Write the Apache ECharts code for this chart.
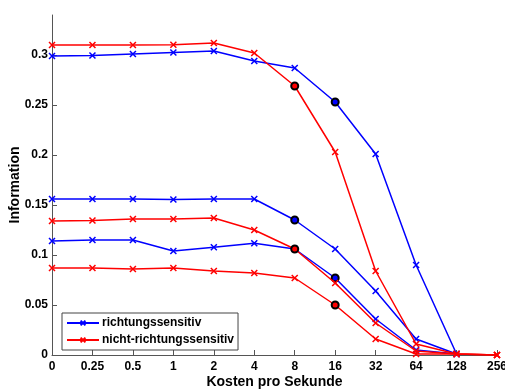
<!DOCTYPE html>
<html>
<head>
<meta charset="utf-8">
<script src="https://cdn.jsdelivr.net/npm/echarts@6/dist/echarts.min.js"></script>
<style>
  html, body { margin: 0; padding: 0; background: #fff; }
  #chart { width: 505px; height: 392px; }
</style>
</head>
<body>
<div id="chart"></div>
<script>
const costs = ["0", "0.25", "0.5", "1", "2", "4", "8", "16", "32", "64", "128", "256"]
const yTicks = [0, 0.05, 0.1, 0.15, 0.2, 0.25, 0.3]

// richtungssensitiv (blue)
const blueTop = [0.299, 0.2995, 0.301, 0.3025, 0.304, 0.294, 0.287, 0.253, 0.201, 0.090, 0.001]
const blueMid = [0.156, 0.156, 0.156, 0.1555, 0.156, 0.156, 0.135, 0.106, 0.064, 0.016, 0.001]
const blueLow = [0.114, 0.115, 0.115, 0.104, 0.1077, 0.1117, 0.106, 0.077, 0.036, 0.005, 0.001]

// nicht-richtungssensitiv (red)
const redTop = [0.310, 0.310, 0.310, 0.3103, 0.312, 0.302, 0.269, 0.203, 0.084, 0.011, 0.001, 0]
const redMid = [0.134, 0.1345, 0.136, 0.136, 0.137, 0.125, 0.106, 0.072, 0.032, 0.004, 0.001, 0]
const redLow = [0.087, 0.087, 0.086, 0.087, 0.084, 0.082, 0.077, 0.050, 0.016, 0.001, 0.001, 0]

// index of the circled point on each curve
const circled = { blueTop: 7, blueMid: 6, blueLow: 7, redTop: 6, redMid: 6, redLow: 7 }

const BLUE = "#0000ff"
const RED = "#ff0000"
const crossPath = "path://M0,0L10,10M10,0L0,10"

function makeSeries(name, values, color, circleIdx) {
  return {
    name: name,
    type: "line",
    symbol: crossPath,
    symbolSize: 6,
    lineStyle: { color: color, width: 1.5 },
    itemStyle: { color: color, borderColor: color, borderWidth: 1.5 },
    emphasis: { disabled: true },
    data: values.map((v, i) =>
      i === circleIdx
        ? { value: v, symbol: "circle", symbolSize: 7, itemStyle: { color: color, borderColor: "#000", borderWidth: 2 } }
        : v
    ),
    z: color === RED ? 3 : 2,
  }
}

const chart = echarts.init(document.getElementById("chart"))
const font = "Liberation Sans"

chart.setOption({
  animation: false,
  textStyle: { fontFamily: font },
  grid: { left: 52, right: 8, top: 15, bottom: 37, outerBoundsMode: "none", containLabel: false },
  legend: {
    orient: "vertical",
    left: 62,
    top: 313,
    data: ["richtungssensitiv", "nicht-richtungssensitiv"],
    itemWidth: 32,
    itemHeight: 6,
    itemGap: 5,
    padding: [4, 4, 4, 4],
    borderColor: "#444",
    borderWidth: 1,
    backgroundColor: "#fff",
    textStyle: { fontFamily: font, fontSize: 12, fontWeight: "bold", color: "#000", padding: [0, 0, 0, -2] },
  },
  xAxis: {
    type: "category",
    data: costs,
    boundaryGap: false,
    name: "Kosten pro Sekunde",
    nameLocation: "middle",
    nameGap: 20,
    nameMoveOverlap: false,
    nameTextStyle: { fontFamily: font, fontSize: 14, fontWeight: "bold", color: "#000" },
    axisLine: { lineStyle: { color: "#555", width: 1 } },
    axisTick: { inside: true, length: 5, alignWithLabel: true, lineStyle: { color: "#555" } },
    axisLabel: { fontFamily: font, fontSize: 12, fontWeight: "bold", color: "#000", margin: 6, interval: 0, hideOverlap: false },
    splitLine: { show: false },
  },
  yAxis: {
    type: "value",
    min: 0,
    max: 0.34,
    interval: 0.05,
    name: "Information",
    nameLocation: "middle",
    nameGap: 30,
    nameMoveOverlap: false,
    nameTextStyle: { fontFamily: font, fontSize: 14, fontWeight: "bold", color: "#000" },
    axisLine: { show: true, lineStyle: { color: "#555", width: 1 } },
    axisTick: { show: true, inside: true, length: 5, customValues: yTicks, lineStyle: { color: "#555" } },
    axisLabel: {
      fontFamily: font, fontSize: 12, fontWeight: "bold", color: "#000", margin: 4,
      customValues: yTicks,
      formatter: (v) => String(+v.toFixed(2)),
    },
    splitLine: { show: false },
  },
  series: [
    makeSeries("richtungssensitiv", blueTop, BLUE, circled.blueTop),
    makeSeries("richtungssensitiv", blueMid, BLUE, circled.blueMid),
    makeSeries("richtungssensitiv", blueLow, BLUE, circled.blueLow),
    makeSeries("nicht-richtungssensitiv", redTop, RED, circled.redTop),
    makeSeries("nicht-richtungssensitiv", redMid, RED, circled.redMid),
    makeSeries("nicht-richtungssensitiv", redLow, RED, circled.redLow),
  ],
})
</script>
</body>
</html>
